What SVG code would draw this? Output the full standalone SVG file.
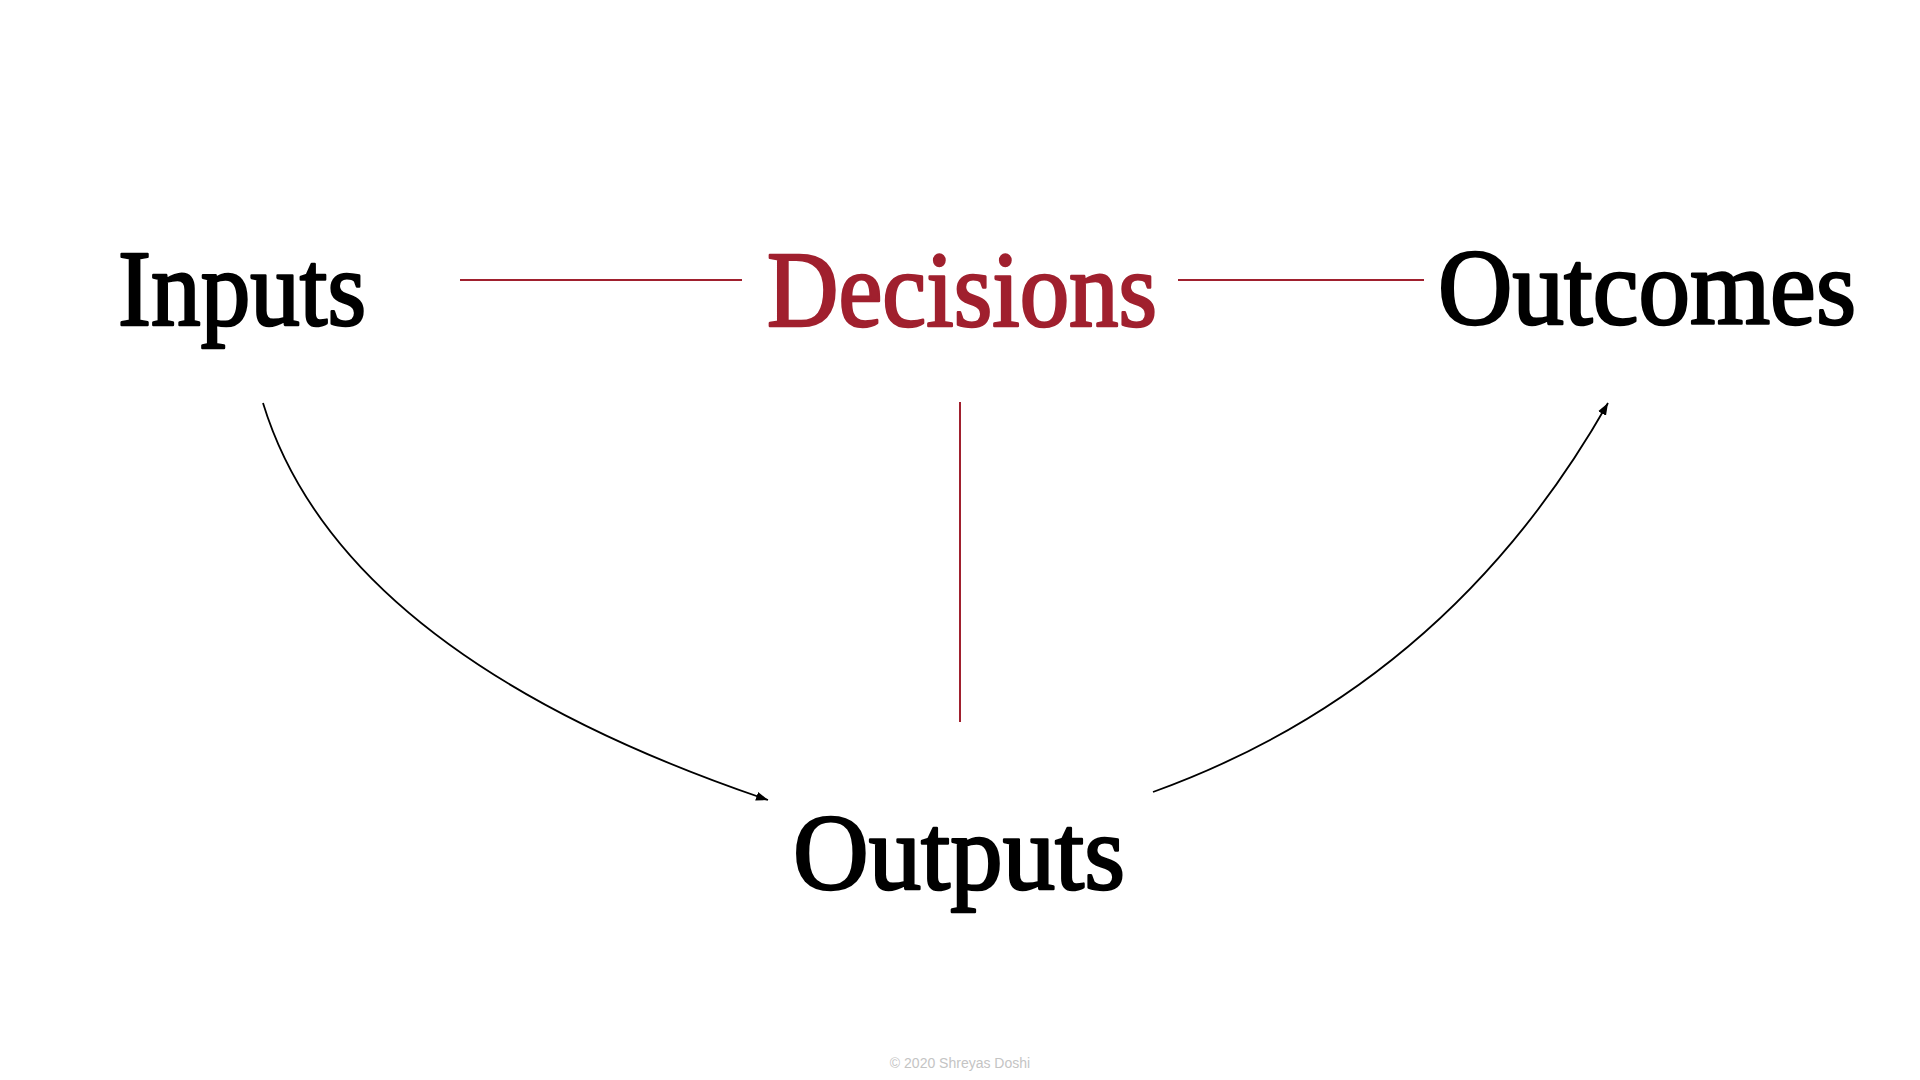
<svg xmlns="http://www.w3.org/2000/svg" width="1920" height="1080" viewBox="0 0 1920 1080">
  <style>
    .lbl { font-family: "Liberation Serif", "Times New Roman", serif; font-size: 108px; fill: #000; stroke: #000; stroke-width: 2.6; stroke-linejoin: round; }
    .red { fill: #A0202E; stroke: #A0202E; }
    .rline { stroke: #A0202E; stroke-width: 2; fill: none; }
    .arc { stroke: #000; stroke-width: 1.8; fill: none; }
    .copy { font-family: "Liberation Sans", Arial, sans-serif; font-size: 14px; fill: #C4C4C4; }
  </style>
  <defs>
    <marker id="arrow" markerUnits="userSpaceOnUse" markerWidth="14" markerHeight="10" refX="12" refY="5" orient="auto">
      <path d="M0,0.5 L12,5 L0,9.5 Z" fill="#000"/>
    </marker>
  </defs>
  <rect width="1920" height="1080" fill="#fff"/>
  <g id="connectors">
    <line class="rline" x1="460" y1="280" x2="742" y2="280"/>
    <line class="rline" x1="1178" y1="280" x2="1424" y2="280"/>
    <line class="rline" x1="960" y1="402" x2="960" y2="722"/>
    <path class="arc" d="M263,403 Q340,655 768,800" marker-end="url(#arrow)"/>
    <path class="arc" d="M1153,792 Q1447,686 1608,403" marker-end="url(#arrow)"/>
  </g>
  <g id="node-inputs">
    <text class="lbl" x="118" y="325" textLength="248" lengthAdjust="spacingAndGlyphs">Inputs</text>
  </g>
  <g id="node-decisions">
    <text class="lbl red" x="767" y="326" textLength="390" lengthAdjust="spacingAndGlyphs">Decisions</text>
  </g>
  <g id="node-outcomes">
    <text class="lbl" x="1438" y="324" textLength="418" lengthAdjust="spacingAndGlyphs">Outcomes</text>
  </g>
  <g id="node-outputs">
    <text class="lbl" x="793" y="889" textLength="332" lengthAdjust="spacingAndGlyphs">Outputs</text>
  </g>
  <text class="copy" x="960" y="1068" text-anchor="middle">© 2020 Shreyas Doshi</text>
</svg>
